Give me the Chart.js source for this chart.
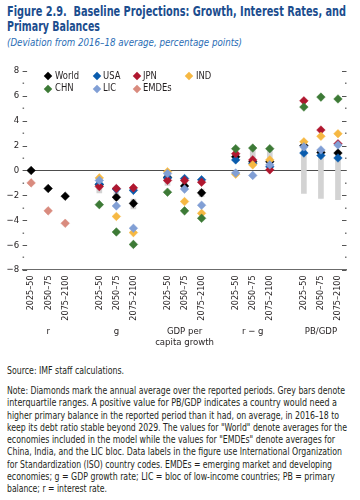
<!DOCTYPE html>
<html>
<head>
<meta charset="utf-8">
<script src="https://cdn.jsdelivr.net/npm/chart.js@4.4.1/dist/chart.umd.min.js"></script>
<style>
  body { margin: 0; width: 360px; height: 500px; background: #fff; position: relative; overflow: hidden;
         font-family: "Liberation Sans Narrow", "DejaVu Sans Condensed", "Noto Sans", sans-serif; color: #231f20; }
  .ln { display: block; width: max-content; white-space: nowrap; transform-origin: 0 50%; }
  #title { position: absolute; left: 7px; top: 4px; font-weight: bold; font-size: 14.5px; line-height: 15px; color: #1b4d8e; }
  #sub { position: absolute; left: 7px; top: 36px; font-style: italic; font-size: 11px; color: #2a6db5; }
  #wrap { position: absolute; left: 0; top: 50px; }
  #legend { position: absolute; left: 0; top: 0; font-size: 11px; }
  .item { position: absolute; white-space: nowrap; line-height: 12px; transform: scaleX(0.85); transform-origin: 0 50%; }
  .dia { position: absolute; width: 6px; height: 6px; transform: rotate(45deg); }
  #source { position: absolute; left: 7px; top: 365px; font-size: 10px; }
  #note { position: absolute; left: 7px; top: 385px; font-size: 10px; line-height: 12.25px; }
</style>
</head>
<body>
<div id="title">
  <span class="ln" data-w="339">Figure 2.9.&nbsp; Baseline Projections: Growth, Interest Rates, and</span>
  <span class="ln" data-w="93">Primary Balances</span>
</div>
<div id="sub"><span class="ln" data-w="235">(Deviation from 2016–18 average, percentage points)</span></div>
<div id="wrap"><canvas id="myChart" width="360" height="298"></canvas></div>
<div id="legend"></div>
<div id="source"><span class="ln" data-w="117">Source: IMF staff calculations.</span></div>
<div id="note">
  <span class="ln" data-w="338">Note: Diamonds mark the annual average over the reported periods. Grey bars denote</span>
  <span class="ln" data-w="330">interquartile ranges. A positive value for PB/GDP indicates a country would need a</span>
  <span class="ln" data-w="332">higher primary balance in the reported period than it had, on average, in 2016–18 to</span>
  <span class="ln" data-w="340">keep its debt ratio stable beyond 2029. The values for "World" denote averages for the</span>
  <span class="ln" data-w="328">economies included in the model while the values for "EMDEs" denote averages for</span>
  <span class="ln" data-w="335">China, India, and the LIC bloc. Data labels in the figure use International Organization</span>
  <span class="ln" data-w="325">for Standardization (ISO) country codes. EMDEs = emerging market and developing</span>
  <span class="ln" data-w="328">economies; g = GDP growth rate; LIC = bloc of low-income countries; PB = primary</span>
  <span class="ln" data-w="100">balance; r = interest rate.</span>
</div>
<script>
// periods and groups (x axis)
var periods = ["2025–50", "2050–75", "2075–2100"];
var groups = ["r", "g", ["GDP per", "capita growth"], "r − g", "PB/GDP"];

// values: r(3), g(3), GDP per capita growth(3), r-g(3), PB/GDP(3)
var world = [0, -1.45, -2.07, -1.15, -2.15, -2.65, -0.55, -1.25, -1.8, 1.1, 0.7, 0.7, 2.0, 1.45, 1.4];
var usa   = [null, null, null, -1.1, -1.5, -1.6, -0.6, -0.65, -0.75, 0.85, 0.55, 0.3, 1.4, 1.2, 1.0];
var jpn   = [null, null, null, -1.3, -1.45, -1.4, -0.8, -0.8, -0.95, 1.35, 0.85, 0.05, 5.6, 3.25, 2.15];
var ind   = [null, null, null, -0.6, -3.7, -5.0, -0.1, -2.5, -3.45, -0.3, 0.45, 0.85, 2.3, 2.75, 2.95];
var chn   = [null, null, null, -2.75, -4.95, -5.95, -1.75, -3.25, -3.85, 1.75, 1.8, 1.75, 5.1, 5.9, 5.75];
var lic   = [null, null, null, -0.8, -2.85, -4.65, -0.25, -1.5, -2.8, -0.2, -0.4, 0.45, 1.9, 1.65, 2.05];
var emdes = [-1.0, -3.25, -4.25, null, null, null, null, null, null, null, null, null, null, null, null];

// interquartile ranges (grey bars)
var iqrLow  = [null, null, null, -1.8, -2.4, -3.1, -1.2, -1.4, -2.1, 0.8, 0.8, 0.5, -1.85, -2.25, -2.35];
var iqrHigh = [null, null, null, -0.9, -1.7, -2.3, -0.4, -0.9, -1.5, 1.5, 1.7, 1.6, 1.7, 1.5, 1.5];

var FONT = "'Liberation Sans Narrow', 'DejaVu Sans Condensed', 'Noto Sans', sans-serif";

// spread 15 values over 19 slots (blank slot between groups)
function toSlots(vals, blank) {
  var out = [];
  groups.forEach(function (g, gi) {
    if (gi > 0) out.push(blank);
    for (var p = 0; p < 3; p++) out.push(vals[gi * 3 + p]);
  });
  return out;
}

var periodLabels = toSlots(groups.flatMap(function () { return periods; }), "");
var groupLabels = toSlots(groups.flatMap(function (g) { return ["", g, ""]; }), "");
var iqr = toSlots(iqrLow.map(function (l, i) { return l == null ? null : [l, iqrHigh[i]]; }), null);

var series = [
  { name: "World", values: world, color: "#000000" },
  { name: "USA", values: usa, color: "#0a5cad" },
  { name: "JPN", values: jpn, color: "#b0172f" },
  { name: "IND", values: ind, color: "#f6b843" },
  { name: "CHN", values: chn, color: "#3d7a36" },
  { name: "LIC", values: lic, color: "#819fd5" },
  { name: "EMDEs", values: emdes, color: "#d98b7e" }
];

var datasets = series.map(function (s, i) {
  return {
    type: "line",
    label: s.name,
    data: toSlots(s.values, null),
    showLine: false,
    pointStyle: "rectRot",
    pointRadius: 4.3,
    pointHoverRadius: 4.3,
    pointBackgroundColor: s.color,
    pointBorderColor: s.color,
    pointBorderWidth: 0.5,
    order: series.length - i
  };
});
datasets.push({
  type: "bar",
  label: "IQR",
  data: iqr,
  backgroundColor: "#d3d3d3",
  barThickness: 5,
  order: 20
});

//short ticks inside the plot edges
var edgeTicks = {
  id: "edgeTicks",
  afterDraw: function (chart) {
    var ctx = chart.ctx, area = chart.chartArea, y = chart.scales.y;
    ctx.save();
    ctx.strokeStyle = "#555";
    ctx.fillStyle = "#777";
    ctx.lineWidth = 1;
    y.ticks.forEach(function (t) {
      var py = Math.round(y.getPixelForValue(t.value)) + 0.5;
      if (t.value % 2 === 0) {
        ctx.beginPath();
        ctx.moveTo(area.left, py); ctx.lineTo(area.left + 4.5, py);
        ctx.moveTo(area.right - 4.5, py); ctx.lineTo(area.right, py);
        ctx.stroke();
      } else {
        ctx.fillRect(area.left, py - 1, 1.5, 1.5);
        ctx.fillRect(area.right - 1.5, py - 1, 1.5, 1.5);
      }
    });
    ctx.restore();
  }
};

var ctx = document.getElementById("myChart");
var myChart = new Chart(ctx, {
  data: { labels: periodLabels, datasets: datasets },
  plugins: [edgeTicks],
  options: {
    responsive: false,
    animation: false,
    devicePixelRatio: 1,
    layout: { padding: { top: 21, left: 3, right: 13.5, bottom: 0 } },
    plugins: { legend: { display: false }, tooltip: { enabled: false } },
    scales: {
      x: {
        type: "category",
        offset: true,
        weight: 0,
        grid: { display: false, drawTicks: false },
        border: { display: true, color: "#6b6b6b" },
        ticks: { autoSkip: false, minRotation: 90, maxRotation: 90, padding: 5.5, color: "#231f20", font: { family: FONT, size: 9 } }
      },
      x2: {
        type: "category",
        position: "bottom",
        labels: groupLabels,
        offset: true,
        weight: 1,
        grid: { display: false, drawTicks: false },
        border: { display: false },
        ticks: { autoSkip: false, minRotation: 0, maxRotation: 0, padding: 0, color: "#231f20", font: { family: FONT, size: 9.5, lineHeight: 1.15 } }
      },
      y: {
        min: -8,
        max: 8,
        border: { display: false },
        grid: {
          drawTicks: false,
          color: function (c) { return c.tick && c.tick.value === 0 ? "#4d4d4d" : "rgba(0,0,0,0)"; }
        },
        ticks: {
          stepSize: 1,
          autoSkip: false,
          padding: 3.5,
          color: "#231f20",
          font: { family: FONT, size: 9.5 },
          callback: function (v) { return v % 2 === 0 ? (v < 0 ? "−" + Math.abs(v) : String(v)) : ""; }
        }
      }
    }
  }
});

// legend in four columns inside the plot
var legendCols = [48, 96.5, 136.7, 189];
var legendRows = [76, 88.7];
var legendOrder = ["World", "USA", "JPN", "IND", "CHN", "LIC", "EMDEs"];
var legend = document.getElementById("legend");
legendOrder.forEach(function (name, i) {
  var s = series.find(function (d) { return d.name === name; });
  var cx = legendCols[i % 4], cy = legendRows[Math.floor(i / 4)];
  var d = document.createElement("div");
  d.className = "dia";
  d.style.background = s.color;
  d.style.left = (cx - 3) + "px";
  d.style.top = (cy - 3) + "px";
  legend.appendChild(d);
  var t = document.createElement("div");
  t.className = "item";
  t.textContent = name;
  t.style.left = (cx + 6.5) + "px";
  t.style.top = (cy - 6.5) + "px";
  legend.appendChild(t);
});

// squeeze text lines to the measured widths
document.querySelectorAll(".ln").forEach(function (el) {
  var w = el.getBoundingClientRect().width;
  el.style.transform = "scaleX(" + (+el.dataset.w / w) + ")";
});
</script>
</body>
</html>
